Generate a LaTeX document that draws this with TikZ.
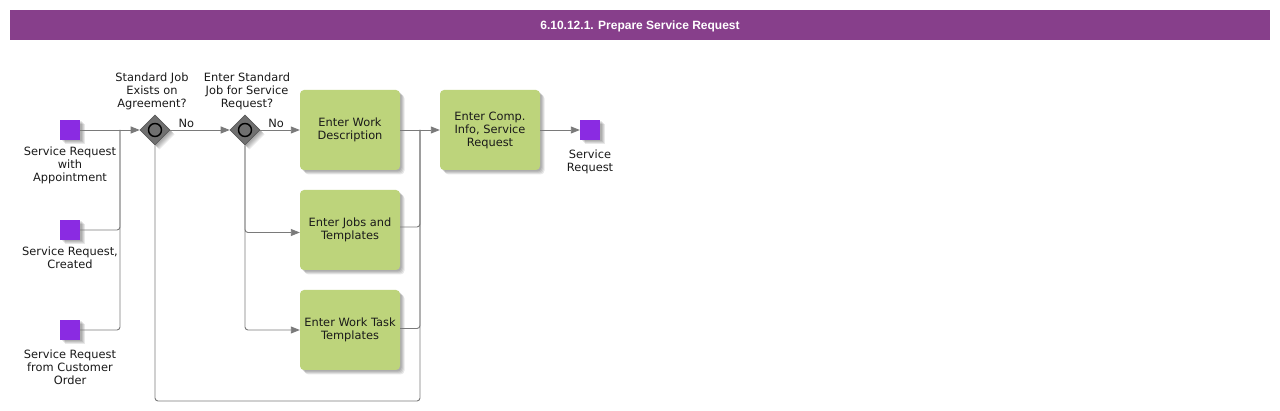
\documentclass[tikz,border=0pt]{standalone}
\usepackage{fontspec}
\setmainfont{DejaVu Sans}
\newfontfamily\titlefont{Liberation Sans}
\usetikzlibrary{shapes.geometric,arrows.meta,calc}
\definecolor{titlebg}{HTML}{873F8B}
\definecolor{taskgreen}{HTML}{BDD47B}
\definecolor{evpurple}{HTML}{8A2BE2}
\definecolor{gwgray}{HTML}{707070}
\definecolor{linegray}{HTML}{7A7A7A}
\definecolor{txt}{HTML}{1A1A1A}
\tikzset{
  task/.style={rectangle, rounded corners=4pt, fill=taskgreen, minimum width=100pt, minimum height=80pt, inner sep=1pt, align=center, font=\fontsize{11.4}{13}\selectfont, text=txt},
  ev/.style={rectangle, fill=evpurple, minimum size=20pt, inner sep=0pt},
  gw/.style={diamond, fill=gwgray, draw=gwgray!80!black, line width=0.6pt, minimum size=30pt, inner sep=0pt},
  lbl/.style={align=center, font=\fontsize{11.4}{13}\selectfont, text=txt},
  flow/.style={draw=linegray, line width=0.9pt, -{Triangle[length=9pt,width=7pt]}},
  plain/.style={draw=linegray, line width=0.9pt},
  shd/.style={fill=black, fill opacity=0.09},
}
\begin{document}
\begin{tikzpicture}[x=1pt,y=-1pt]
\useasboundingbox (0,0) rectangle (1280,411);
\fill[white] (0,0) rectangle (1280,411);
% title
\fill[titlebg] (10,10) rectangle (1270,40);
\node[text=white, font=\titlefont\bfseries\fontsize{12}{14}\selectfont] (title) at (640,26) {6.10.12.1. Prepare Service Request};

% soft shadows
\foreach \d in {1.5,2.5,3.5,4.5} {
  \foreach \x/\y in {70/130,70/230,70/330,590/130} {
    \fill[shd] (\x-10+\d,\y-10+\d) rectangle (\x+10+\d,\y+10+\d);
  }
  \foreach \x/\y in {350/130,350/230,350/330,490/130} {
    \fill[shd, rounded corners=4pt] (\x-50+\d,\y-40+\d) rectangle (\x+50+\d,\y+40+\d);
  }
  \foreach \x in {155,245} {
    \fill[shd] (\x+\d,130-15+\d) -- (\x+15+\d,130+\d) -- (\x+\d,145+\d) -- (\x-15+\d,130+\d) -- cycle;
  }
}

% events
\node[ev] (s1) at (70,130) {};
\node[ev] (s2) at (70,230) {};
\node[ev] (s3) at (70,330) {};
\node[ev] (e1) at (590,130) {};
\node[lbl, anchor=north] (s1l) at (70,143) {Service Request\\with\\Appointment};
\node[lbl, anchor=north] (s2l) at (70,243) {Service Request,\\Created};
\node[lbl, anchor=north] (s3l) at (70,346) {Service Request\\from Customer\\Order};
\node[lbl, anchor=north] (e1l) at (590,146) {Service\\Request};

% gateways
\node[gw] (g1) at (155,130) {};
\node[gw] (g2) at (245,130) {};
\draw[black, line width=1.4pt] (g1) circle (6.5pt);
\draw[black, line width=1.4pt] (g2) circle (6.5pt);
\node[lbl, anchor=south] (g1l) at (152,113) {Standard Job\\Exists on\\Agreement?};
\node[lbl, anchor=south] (g2l) at (247,113) {Enter Standard\\Job for Service\\Request?};

% tasks
\node[task] (t1) at (350,130) {Enter Work\\Description};
\node[task] (t2) at (350,230) {Enter Jobs and\\Templates};
\node[task] (t3) at (350,330) {Enter Work Task\\Templates};
\node[task] (t4) at (490,130) {Enter Comp.\\Info, Service\\Request};

% junction coordinates
\coordinate (j1) at (120,130);
\coordinate (j2) at (420,130);
\coordinate (j2b) at (420,401);

% connectors
\draw[flow] (s1.east) -- (g1.west);
\draw[plain, rounded corners=3pt] (s2.east) -| (j1);
\draw[plain, rounded corners=3pt] (s3.east) -| (j1);
\draw[flow] (g1.east) -- node[lbl, above, pos=0.27, inner sep=2pt] (no1) {No} (g2.west);
\draw[flow] (g2.east) -- node[lbl, above, pos=0.4, inner sep=2pt] (no2) {No} (t1.west);
\draw[flow, rounded corners=3pt] (g2.south) |- ($(t2.west)+(0,2.5)$);
\draw[flow, rounded corners=3pt] (g2.south) |- (t3.west);
\draw[plain, rounded corners=3pt] (g1.south) |- (j2b) -- (j2);
\draw[plain, rounded corners=3pt] ($(t2.east)+(0,-3)$) -| (j2);
\draw[plain, rounded corners=3pt] ($(t3.east)+(0,-1.5)$) -| (j2);
\draw[flow] (t1.east) -- (t4.west);
\draw[flow] (t4.east) -- (e1.west);
\end{tikzpicture}
\end{document}
